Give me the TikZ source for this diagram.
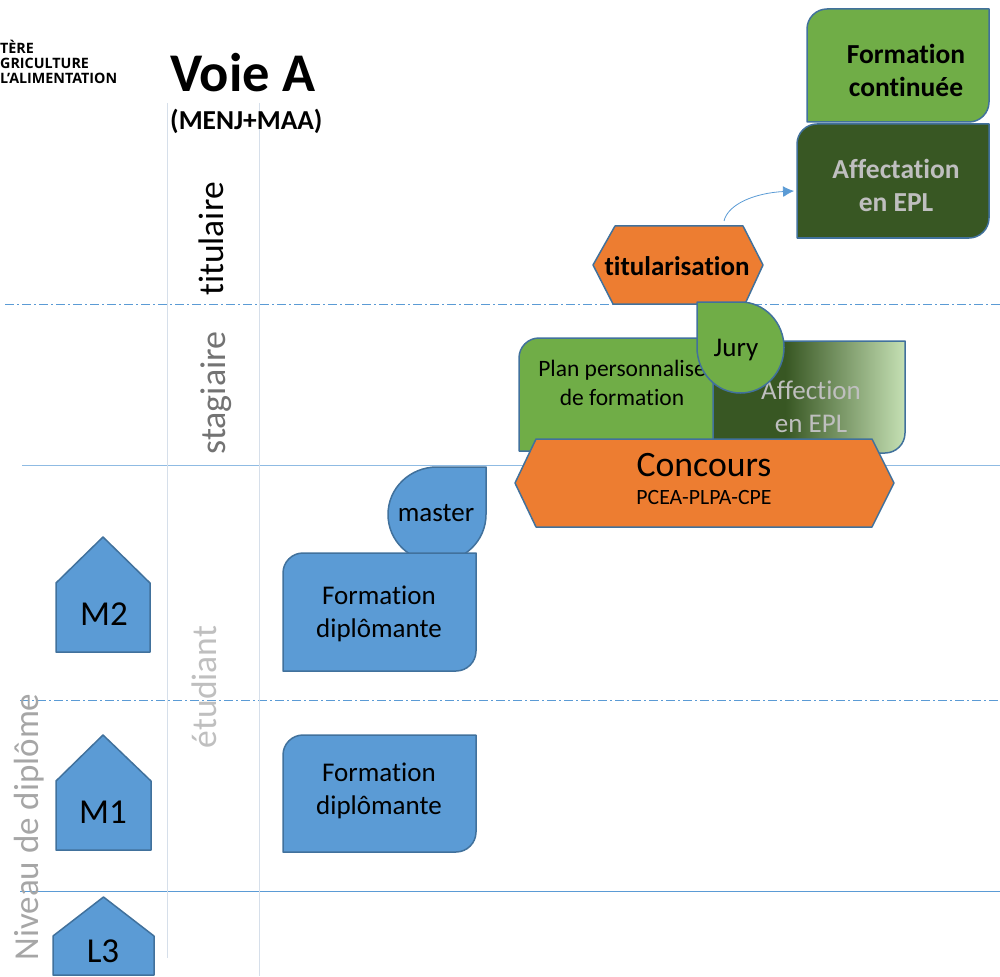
\documentclass[tikz,border=0pt]{standalone}
\usepackage{fontspec}
\setmainfont[Ligatures=CommonOff]{Carlito}
\newfontfamily\logofont{Open Sans}
\usetikzlibrary{arrows.meta}
\definecolor{cblue}{HTML}{5B9BD5}
\definecolor{cbluelt}{HTML}{8FBBE3}
\definecolor{cgreen}{HTML}{70AD47}
\definecolor{corange}{HTML}{ED7D31}
\definecolor{cdark}{HTML}{385723}
\definecolor{cedge}{HTML}{41719C}
\definecolor{clight}{HTML}{C5E0B4}
\definecolor{cgreyA}{HTML}{A6A6A6}
\definecolor{cgreyB}{HTML}{BFBFBF}
\definecolor{cvline}{HTML}{D6DFEA}
\pgfdeclarehorizontalshading{affgrad}{100bp}{color(0bp)=(cdark); color(44bp)=(cdark); color(75bp)=(clight); color(100bp)=(clight)}
\tikzset{
  shapeline/.style={draw=cedge,line width=1.5pt,line join=round},
  guideh/.style={fill=cbluelt,draw=none},
  guidehb/.style={fill=cblue,draw=none},
  guidedash/.style={draw=cblue,line width=0.8pt,dash pattern=on 9pt off 3pt on 2pt off 3pt},
  guidev/.style={draw=cvline,line width=0.8pt},
  label/.style={inner sep=0pt,align=center,font=\fontsize{27}{33}\selectfont},
}
\newcommand{\diagbox}[5]{% x1,y1,x2,y2,style : round top-left and bottom-right
  \path[shapeline,#5] (#1,#2+20) .. controls (#1,#2+9) and (#1+9,#2) .. (#1+20,#2) -- (#3,#2) -- (#3,#4-20) .. controls (#3,#4-9) and (#3-9,#4) .. (#3-20,#4) -- (#1,#4) -- cycle;}
\begin{document}
\begin{tikzpicture}[x=1pt,y=-1pt]
\useasboundingbox (0,0) rectangle (1000,976);
% guides
\draw[guidedash] (5,304.5) -- (1000,304.5);
\draw[guidedash] (20,700.5) -- (1000,700.5);
\path[guideh] (22,464.7) rectangle (1000,466.2);
\path[guidehb] (20,891) rectangle (1000,892);
\draw[guidev] (167.5,103) -- (167.5,958);
\draw[guidev] (259.5,103) -- (259.5,976);
% logo and titles
\node[anchor=west,inner sep=0pt,font=\logofont\bfseries\fontsize{14.3}{14.8}\selectfont,align=left] (logo) at (0,62) {TÈRE\\GRICULTURE\\L’ALIMENTATION};
\node[anchor=west,inner sep=0pt,font=\bfseries\fontsize{54.5}{58}\selectfont] (voie) at (170,73) {Voie A};
\node[anchor=west,inner sep=0pt,font=\bfseries\fontsize{27.4}{30}\selectfont] (menj) at (170,121) {(MENJ+MAA)};
% vertical labels
\node[rotate=90,inner sep=0pt,font=\fontsize{35.5}{38}\selectfont] (titulaire) at (211,239) {titulaire};
\node[rotate=90,inner sep=0pt,font=\fontsize{36}{38}\selectfont,text=black!55] (stagiaire) at (216,393) {stagiaire};
\node[rotate=90,inner sep=0pt,font=\fontsize{35.5}{38}\selectfont,text=cgreyB] (etudiant) at (204,687) {étudiant};
\node[rotate=90,inner sep=0pt,font=\fontsize{35}{38}\selectfont,text=cgreyA] (niveau) at (29,827) {Niveau de diplôme};
% top right boxes
\diagbox{807}{9}{989}{122}{fill=cgreen}
\node[label,font=\bfseries\fontsize{27.5}{33}\selectfont] (fc) at (906,70) {Formation\\continuée};
\diagbox{797}{124}{989}{238}{fill=cdark}
\node[label,font=\bfseries\fontsize{27.5}{33}\selectfont,text=cgreyB] (aff) at (896,185) {Affectation\\en EPL};
% titularisation
\path[shapeline,fill=corange] (593,265) -- (615,226) -- (743,226) -- (763,265) -- (745,304) -- (613,304) -- cycle;
\node[label,font=\bfseries\fontsize{27}{30}\selectfont] (titu) at (677,266) {titularisation};
\coordinate (arrowstart) at (724,221);
\coordinate (arrowend) at (794,191);
\draw[cblue,line width=0.8pt,-{Latex[length=11pt,width=11pt]}] (arrowstart) .. controls (728,204) and (755,193) .. (arrowend);
% stagiaire row
\path[shade,shading=affgrad,draw=cedge,line width=1.5pt,line join=round] (712,341) -- (905,341) -- (905,433) .. controls (905,444) and (896,453) .. (885,453) -- (712,453) -- cycle;
\node[label,text=cgreyB,font=\fontsize{27}{33}\selectfont] (affection) at (811,407) {Affection\\en EPL};
\path[shapeline,fill=cgreen] (519,358) .. controls (519,347) and (528,338) .. (539,338) -- (713,338) -- (713,446) .. controls (713,449) and (711,451) .. (708,451) -- (519,451) -- cycle;
\node[label,font=\fontsize{23.5}{29}\selectfont] (plan) at (622,383) {Plan personnalise\\de formation};
\path[shapeline,fill=cgreen] (697,302) -- (740.5,302) .. controls (764.5,302) and (784,322.5) .. (784,347.5) .. controls (784,372.5) and (764.5,393) .. (740.5,393) .. controls (716.5,393) and (697,372.5) .. (697,347.5) -- cycle;
\node[label] (jury) at (736,350) {Jury};
% concours
\path[shapeline,fill=corange] (515,483) -- (536,439) -- (872,439) -- (894,483) -- (872,527) -- (536,527) -- cycle;
\node[label,font=\fontsize{35.7}{38}\selectfont] (conc) at (704,465) {Concours};
\node[label,font=\fontsize{21.8}{24}\selectfont] (pcea) at (704,497) {PCEA-PLPA-CPE};
% master and formations
\path[shapeline,fill=cblue] (486,467) -- (486,514.5) .. controls (486,541) and (464,562) .. (437,562) .. controls (410,562) and (388,541) .. (388,514.5) .. controls (388,488) and (410,467) .. (437,467) -- cycle;
\node[label] (master) at (436,513) {master};
\diagbox{283}{553}{476}{671}{fill=cblue}
\node[label] (f1) at (379,614) {Formation\\diplômante};
\diagbox{283}{735}{476}{852}{fill=cblue}
\node[label] (f2) at (379,791) {Formation\\diplômante};
% pentagons
\path[shapeline,fill=cblue] (103,537) -- (150,583) -- (150,652) -- (56,652) -- (56,583) -- cycle;
\node[label,font=\fontsize{35}{38}\selectfont] (m2) at (104,614) {M2};
\path[shapeline,fill=cblue] (103,735) -- (151,781) -- (151,850) -- (56,850) -- (56,781) -- cycle;
\node[label,font=\fontsize{35}{38}\selectfont] (m1) at (103,812) {M1};
\path[shapeline,fill=cblue] (103.5,897) -- (154,936) -- (154,975) -- (53,975) -- (53,936) -- cycle;
\node[label,font=\fontsize{35}{38}\selectfont] (l3) at (103,951) {L3};
\end{tikzpicture}
\end{document}
